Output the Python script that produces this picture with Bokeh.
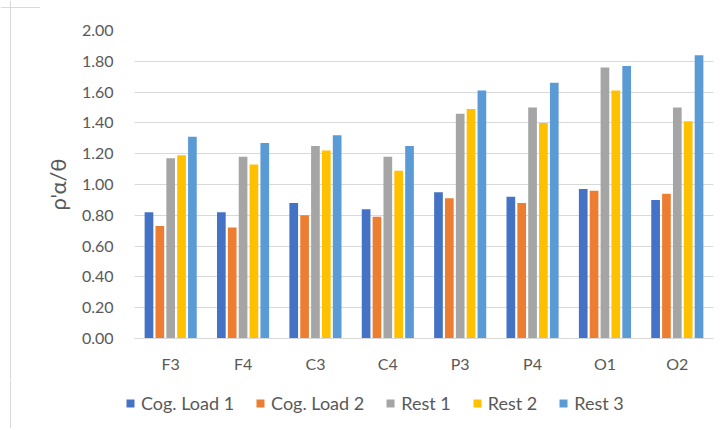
from bokeh.plotting import figure
from bokeh.layouts import column, row
from bokeh.models import (FactorRange, Range1d, FixedTicker, PrintfTickFormatter,
                          Legend, LegendItem, Span, ColumnDataSource)
from bokeh.transform import dodge
from bokeh.embed import file_html
from bokeh.resources import INLINE

categories = ["F3", "F4", "C3", "C4", "P3", "P4", "O1", "O2"]
series_names = ["Cog. Load 1", "Cog. Load 2", "Rest 1", "Rest 2", "Rest 3"]
cog_load_1 = [0.82, 0.82, 0.88, 0.84, 0.95, 0.92, 0.97, 0.90]
cog_load_2 = [0.73, 0.72, 0.80, 0.79, 0.91, 0.88, 0.96, 0.94]
rest_1 = [1.17, 1.18, 1.25, 1.18, 1.46, 1.50, 1.76, 1.50]
rest_2 = [1.19, 1.13, 1.22, 1.09, 1.49, 1.40, 1.61, 1.41]
rest_3 = [1.31, 1.27, 1.32, 1.25, 1.61, 1.66, 1.77, 1.84]
y_ticks = [0.0, 0.2, 0.4, 0.6, 0.8, 1.0, 1.2, 1.4, 1.6, 1.8, 2.0]

colors = ["#4472C4", "#ED7D31", "#A5A5A5", "#FFC000", "#5B9BD5"]
FONT = "Lato"
TXT = "#595959"
BORDER = "#d9d9d9"


def blank_fig(w, h, xr, yr):
    f = figure(width=w, height=h, x_range=xr, y_range=yr, output_backend="svg",
               toolbar_location=None, x_axis_location=None, y_axis_location=None,
               min_border=0, frame_align=False, title=None)
    f.min_border_left = f.min_border_right = f.min_border_top = f.min_border_bottom = 0
    f.outline_line_color = None
    f.xgrid.visible = False
    f.ygrid.visible = False
    f.background_fill_color = "white"
    f.border_fill_color = "white"
    return f


source = ColumnDataSource(data=dict(cat=categories, s0=cog_load_1, s1=cog_load_2,
                                    s2=rest_1, s3=rest_2, s4=rest_3))

# ---- left strip (chart border) ----
side = blank_fig(40, 380, Range1d(0, 40), Range1d(0, 380))
side.add_layout(Span(location=10, dimension="height", line_color=BORDER, line_width=1))
side.add_layout(Span(location=373, dimension="width", line_color=BORDER, line_width=1))

# ---- main chart ----
p = figure(x_range=FactorRange(*categories), y_range=Range1d(0, 2.0),
           width=680, height=380, output_backend="svg", toolbar_location=None,
           frame_align=False, title=None)
p.min_border_left = 90
p.min_border_right = 7
p.min_border_top = 30
p.min_border_bottom = 42
p.outline_line_color = None
p.background_fill_color = "white"
p.border_fill_color = "white"

offsets = [-0.30, -0.15, 0.0, 0.15, 0.30]
for i, off in enumerate(offsets):
    p.vbar(x=dodge("cat", off, range=p.x_range), top=f"s{i}", width=0.12,
           source=source, fill_color=colors[i], line_color=None)

p.yaxis.ticker = FixedTicker(ticks=y_ticks)
p.yaxis.formatter = PrintfTickFormatter(format="%.2f")
p.yaxis.axis_line_color = None
p.yaxis.major_tick_line_color = None
p.yaxis.minor_tick_line_color = None
p.yaxis.major_label_standoff = 15
p.yaxis.major_label_text_font = FONT
p.yaxis.major_label_text_font_size = "16px"
p.yaxis.major_label_text_color = TXT
p.yaxis.axis_label = "ρ'α/θ"
p.yaxis.axis_label_standoff = 8
p.yaxis.axis_label_text_font = FONT
p.yaxis.axis_label_text_font_size = "22px"
p.yaxis.axis_label_text_font_style = "normal"
p.yaxis.axis_label_text_color = TXT

p.xaxis.axis_line_color = BORDER
p.xaxis.major_tick_line_color = None
p.xaxis.minor_tick_line_color = None
p.xaxis.major_label_standoff = 9
p.xaxis.major_label_text_font = FONT
p.xaxis.major_label_text_font_size = "16px"
p.xaxis.major_label_text_color = TXT

p.xgrid.grid_line_color = None
p.ygrid.grid_line_color = BORDER
p.ygrid.grid_line_width = 1

# ---- legend strip (bars kept out of view; only the legend shows) ----
leg = blank_fig(720, 48, FactorRange(*categories), Range1d(10, 11))
leg.add_layout(Span(location=10, location_units="screen", dimension="height",
                    line_color=BORDER, line_width=1))
items = []
for i, (name, c) in enumerate(zip(series_names, colors)):
    r = leg.vbar(x="cat", top=f"s{i}", width=0.1, source=source, fill_color=c, line_color=None)
    items.append(LegendItem(label=name, renderers=[r]))
legend = Legend(items=items, orientation="horizontal", location=(125, 14))
legend.glyph_width = 10
legend.glyph_height = 10
legend.label_standoff = 6
legend.spacing = 21
legend.padding = 0
legend.margin = 0
legend.border_line_color = None
legend.background_fill_alpha = 0
legend.label_text_font = FONT
legend.label_text_font_size = "18px"
legend.label_text_color = TXT
leg.add_layout(legend)

layout = column(row(side, p, spacing=0), leg, spacing=0)

open("out.html", "w").write(file_html(layout, INLINE))
